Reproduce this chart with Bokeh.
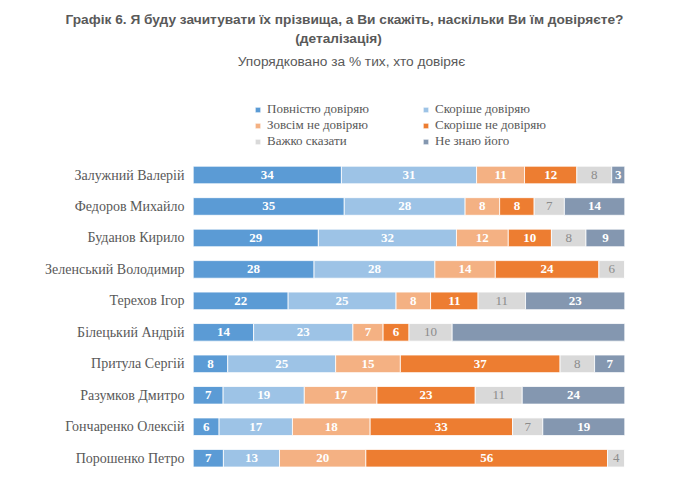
import numpy as np
from bokeh.plotting import figure
from bokeh.models import ColumnDataSource, Range1d, Legend, LegendItem
from bokeh.core.properties import value
from bokeh.embed import file_html
from bokeh.resources import INLINE

# ---------------- data ----------------
title_line1 = "Графік 6. Я буду зачитувати їх прізвища, а Ви скажіть, наскільки Ви їм довіряєте?"
title_line2 = "(деталізація)"
subtitle = "Упорядковано за % тих, хто довіряє"

names = ["Залужний Валерій", "Федоров Михайло", "Буданов Кирило", "Зеленський Володимир",
         "Терехов Ігор", "Білецький Андрій", "Притула Сергій", "Разумков Дмитро",
         "Гончаренко Олексій", "Порошенко Петро"]
series = ["Повністю довіряю", "Скоріше довіряю", "Зовсім не довіряю",
          "Скоріше не довіряю", "Важко сказати", "Не знаю його"]
full_trust = [34, 35, 29, 28, 22, 14, 8, 7, 6, 7]
rather_trust = [31, 28, 32, 28, 25, 23, 25, 19, 17, 13]
no_trust = [11, 8, 12, 14, 8, 7, 15, 17, 18, 20]
rather_not = [12, 8, 10, 24, 11, 6, 37, 23, 33, 56]
hard_to_say = [8, 7, 8, 6, 11, 10, 8, 11, 7, 4]
unknown = [3, 14, 9, 0, 23, 40, 7, 24, 19, 0]
unlabeled = [("Білецький Андрій", "Не знаю його")]

colors = ["#5B9BD5", "#9DC3E6", "#F4B183", "#ED7D31", "#D9D9D9", "#8497B0"]

# ---------------- layout ----------------
W, H = 672, 485
X0, X100 = 192.7, 624.3          # px of 0% and 100%
SCALE = (X100 - X0) / 100.0
ROW0, STEP = 174.5, 31.47        # px of first row centre, row spacing


def dx(px):
    return (px - X0) / SCALE


def dy(py):
    return (py - ROW0) / STEP


values = [full_trust, rather_trust, no_trust, rather_not, hard_to_say, unknown]
keys = ["s%d" % i for i in range(len(series))]
mat = np.array(values, dtype=float)
totals = mat.sum(axis=0)
norm = mat / totals * 100.0
ypos = list(range(len(names)))

data = {"y": ypos, "name": names}
for k, row in zip(keys, norm):
    data[k] = list(row)
src = ColumnDataSource(data)

p = figure(width=W, height=H,
           x_range=Range1d(-X0 / SCALE, 100 + (W - X100) / SCALE),
           y_range=Range1d(start=(H - ROW0) / STEP, end=(0 - ROW0) / STEP),
           x_axis_location=None, y_axis_location=None,
           output_backend="svg", toolbar_location=None, min_border=0)
p.outline_line_color = None
p.grid.grid_line_color = None
p.background_fill_color = "white"
p.border_fill_color = "white"

rends = p.hbar_stack(keys, y="y", height=0.56, color=colors, line_color="white",
                     line_width=0.8, source=src)

# segment labels
lx, ly, lt, gx, gy, gt = [], [], [], [], [], []
cum = np.zeros(len(names))
for j, s in enumerate(series):
    for i, n in enumerate(names):
        v = values[j][i]
        c = cum[i] + norm[j][i] / 2.0
        if v > 0 and (n, s) not in unlabeled:
            if s == "Важко сказати":
                gx.append(c); gy.append(i); gt.append(str(v))
            else:
                lx.append(c); ly.append(i); lt.append(str(v))
    cum = cum + norm[j]

p.text(x=lx, y=ly, text=lt, text_align="center", text_baseline="middle",
       text_font=value("Liberation Serif"), text_font_size="13px",
       text_font_style="bold", text_color="white")
p.text(x=gx, y=gy, text=gt, text_align="center", text_baseline="middle",
       text_font=value("Liberation Serif"), text_font_size="13px",
       text_color="#8C8C8C")

# category labels
p.text(x=[dx(184)] * len(names), y=ypos, text=names, text_align="right",
       text_baseline="middle", text_font=value("Liberation Serif"),
       text_font_size="14px", text_color="#595959")

# titles
p.text(x=[dx(344)], y=[dy(18.5)], text=[title_line1], text_align="center",
       text_baseline="middle", text_font=value("Liberation Sans"),
       text_font_size="13.7px", text_font_style="bold", text_color="#595959")
p.text(x=[dx(338)], y=[dy(38)], text=[title_line2], text_align="center",
       text_baseline="middle", text_font=value("Liberation Sans"),
       text_font_size="13.7px", text_font_style="bold", text_color="#595959")
p.text(x=[dx(351)], y=[dy(61)], text=[subtitle], text_align="center",
       text_baseline="middle", text_font=value("Liberation Sans"),
       text_font_size="13.7px", text_color="#595959")

# legend: column-major fill with 3 rows -> order items so rows read left to right
order = [0, 2, 4, 1, 3, 5]
legend = Legend(items=[LegendItem(label=series[k], renderers=[rends[k]]) for k in order],
                location=(254, H - 149), ncols=2, orientation="vertical",
                label_text_font="Liberation Serif", label_text_font_size="13px",
                label_text_color="#595959", glyph_width=7, glyph_height=7,
                label_standoff=6, padding=0, spacing=0, margin=0,
                label_height=16, label_width=155,
                border_line_color=None, background_fill_alpha=0)
p.add_layout(legend)

open("out.html", "w").write(file_html(p, INLINE))
